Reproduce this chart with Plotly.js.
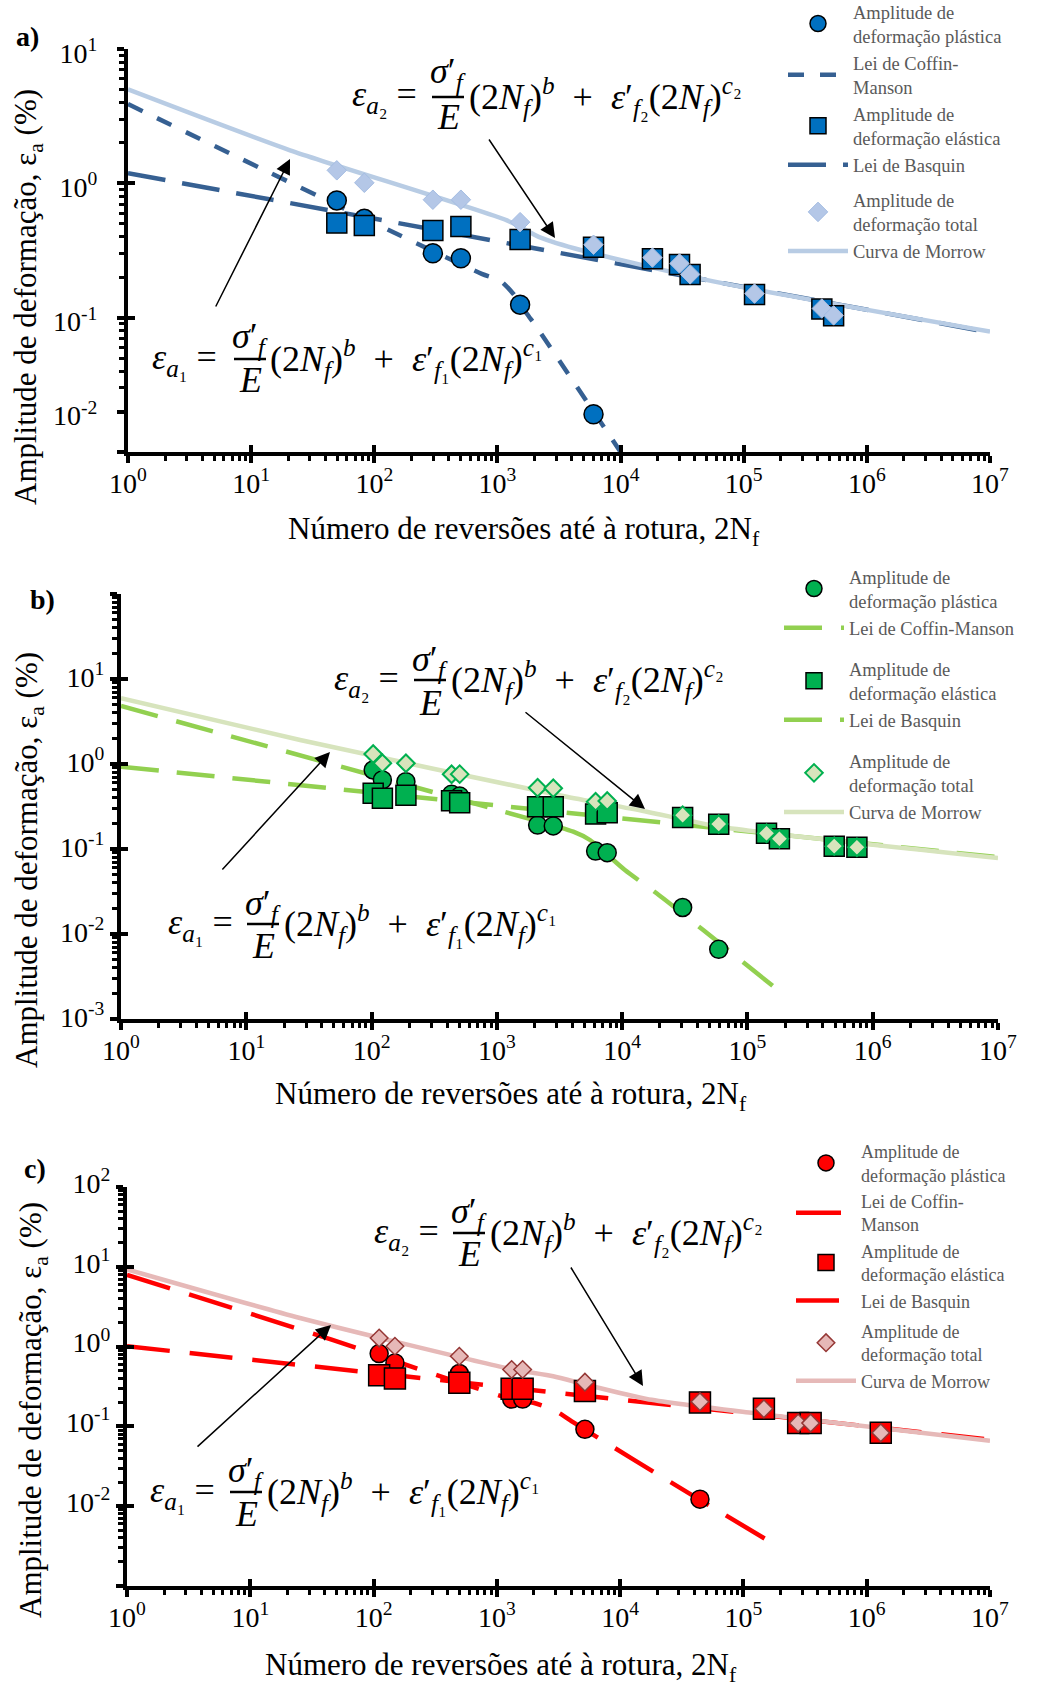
<!DOCTYPE html>
<html>
<head>
<meta charset="utf-8">
<script src="https://cdn.plot.ly/plotly-3.0.1.min.js"></script>
<style>html,body{margin:0;padding:0;background:#fff}</style>
</head>
<body>
<div id="chart" style="width:1043px;height:1686px"></div>
<script>
// ---------- Panel a ----------
const aPlasticN = [49.6, 83, 299, 505, 1528, 6030];
const aPlasticE = [0.746, 0.544, 0.302, 0.277, 0.125, 0.0191];
const aN        = [49.6, 83, 299, 505, 1528, 6030, 18150, 30100, 36700, 122400, 431000, 537000];
const aElastic  = [0.506, 0.486, 0.446, 0.477, 0.382, 0.335, 0.274, 0.249, 0.21, 0.149, 0.116, 0.1035];
const aTotal    = [1.25, 1.01, 0.755, 0.755, 0.514, 0.349, 0.28, 0.253, 0.21, 0.151, 0.117, 0.104];
const aCoffinN  = [1, 746, 1052, 1349, 1734, 2089, 10000];
const aCoffinE  = [3.89, 0.212, 0.189, 0.150, 0.107, 0.0847, 0.01];
const aBasquinN = [1, 1e7];
const aBasquinE = [1.19, 0.0776];
const aMorrowN  = [1, 20.7, 1194, 2188, 4898, 63830, 1e7];
const aMorrowE  = [5.0, 1.762, 0.530, 0.398, 0.316, 0.1824, 0.0787];

// ---------- Panel b ----------
const bPlasticN = [103, 122, 188, 435, 505, 2115, 2820, 6140, 7600, 30400, 59000];
const bPlasticE = [0.85, 0.65, 0.62, 0.44, 0.42, 0.191, 0.187, 0.0946, 0.0904, 0.0205, 0.0066];
const bN        = [103, 122, 188, 435, 505, 2115, 2820, 6140, 7600, 30400, 59000, 142000, 180000, 493000, 748000];
const bElastic  = [0.452, 0.395, 0.43, 0.37, 0.35, 0.315, 0.315, 0.258, 0.267, 0.235, 0.195, 0.153, 0.132, 0.108, 0.105];
const bTotal    = [1.31, 1.02, 1.02, 0.757, 0.76, 0.526, 0.518, 0.36, 0.367, 0.25, 0.197, 0.153, 0.132, 0.108, 0.105];
const bCoffinN  = [1, 1059, 4074, 5534, 10520, 18840, 44360, 163300];
const bCoffinE  = [4.81, 0.2825, 0.160, 0.1276, 0.0566, 0.0301, 0.01114, 0.002377];
const bBasquinN = [1, 1e7];
const bBasquinE = [0.93, 0.0802];
const bMorrowN  = [1, 26.9, 3606, 15700, 60260, 1e7];
const bMorrowE  = [5.93, 1.914, 0.412, 0.2748, 0.1828, 0.0783];

// ---------- Panel c ----------
const cPlasticN = [111, 149, 496, 1318, 1619, 5180, 44400];
const cPlasticE = [0.818, 0.625, 0.46, 0.22, 0.22, 0.0918, 0.01224];
const cN        = [111, 149, 496, 1318, 1619, 5180, 44400, 146600, 278000, 351000, 1300000];
const cElastic  = [0.438, 0.398, 0.352, 0.296, 0.296, 0.277, 0.2, 0.166, 0.110, 0.110, 0.083];
const cTotal    = [1.28, 1.01, 0.757, 0.516, 0.516, 0.358, 0.204, 0.166, 0.110, 0.110, 0.083];
const cCoffinN  = [1, 45.7, 501, 1358, 1977, 2864, 4436, 12760, 39170, 158500];
const cCoffinE  = [7.94, 1.223, 0.3516, 0.2176, 0.1977, 0.1622, 0.1059, 0.03868, 0.01346, 0.003715];
const cBasquinN = [1, 1e7];
const cBasquinE = [1.01, 0.0684];
const cMorrowN  = [1, 25.3, 1259, 2864, 5346, 16410, 120200, 1e7];
const cMorrowE  = [9.3, 2.286, 0.530, 0.4256, 0.3319, 0.2208, 0.1466, 0.0662];

// ---------- Tick labels ----------
const xTickVals = [1, 10, 100, 1e3, 1e4, 1e5, 1e6, 1e7];
const xTickText = ['10<sup>0</sup>', '10<sup>1</sup>', '10<sup>2</sup>', '10<sup>3</sup>',
                   '10<sup>4</sup>', '10<sup>5</sup>', '10<sup>6</sup>', '10<sup>7</sup>'];
const aYTickVals = [0.01, 0.02, 0.1, 1, 10];
const aYTickText = ['', '10<sup>-2</sup>', '10<sup>-1</sup>', '10<sup>0</sup>', '10<sup>1</sup>'];
const bYTickVals = [0.001, 0.01, 0.1, 1, 10, 100];
const bYTickText = ['10<sup>-3</sup>', '10<sup>-2</sup>', '10<sup>-1</sup>', '10<sup>0</sup>', '10<sup>1</sup>', ''];
const cYTickVals = [0.001, 0.01, 0.1, 1, 10, 100];
const cYTickText = ['', '10<sup>-2</sup>', '10<sup>-1</sup>', '10<sup>0</sup>', '10<sup>1</sup>', '10<sup>2</sup>'];

// ---------- Helpers ----------
const W = 1043, H = 1686;
const fx = v => v / W;
const fy = v => 1 - v / H;
const SERIF = 'Liberation Serif, Times New Roman, serif';
const NB = '\u00A0';

function decadeMinors(lo, hi) {
  const out = [];
  for (let k = lo; k < hi; k++) for (let d = 2; d <= 9; d++) out.push(d * Math.pow(10, k));
  return out;
}
const majorsBetween = (lo, hi) => { const o = []; for (let k = lo; k <= hi; k++) o.push(Math.pow(10, k)); return o; };

function xAxis(l, r, anchor) {
  return {
    type: 'log', domain: [fx(l), fx(r)], range: [0, 7], anchor: anchor,
    showline: true, linewidth: 4, linecolor: '#000', zeroline: false, showgrid: false,
    ticks: 'outside', ticklen: 7, tickwidth: 4, tickcolor: '#000',
    tickmode: 'array', tickvals: xTickVals, ticktext: xTickText,
    tickfont: {family: SERIF, size: 28, color: '#000'}, ticklabelstandoff: -4,
    minor: {ticks: 'outside', ticklen: 5, tickwidth: 2.5, tickcolor: '#000', tickmode: 'array',
            tickvals: decadeMinors(0, 7), showgrid: false},
    fixedrange: true
  };
}
function yAxis(t, b, lo, hi, anchor, vals, text, standoff, shift) {
  return {
    type: 'log', domain: [fy(b), fy(t)], range: [lo, hi], anchor: anchor,
    showline: true, linewidth: 4, linecolor: '#000', zeroline: false, showgrid: false,
    ticks: 'outside', ticklen: 7, tickwidth: 4, tickcolor: '#000',
    tickmode: 'array', tickvals: vals, ticktext: text,
    tickfont: {family: SERIF, size: 28, color: '#000'},
    ticklabelstandoff: standoff, ticklabelshift: shift,
    minor: {ticks: 'outside', ticklen: 5, tickwidth: 2.5, tickcolor: '#000', tickmode: 'array',
            tickvals: decadeMinors(lo, hi), showgrid: false},
    fixedrange: true
  };
}
// companion axes that draw the inner half of the major ticks
function xInner(l, r, over, anchor) {
  return {type: 'log', domain: [fx(l), fx(r)], range: [0, 7], overlaying: over, anchor: anchor,
          showline: false, zeroline: false, showgrid: false, showticklabels: false,
          ticks: 'inside', ticklen: 7, tickwidth: 4, tickcolor: '#000',
          tickmode: 'array', tickvals: xTickVals, fixedrange: true};
}
function yInner(t, b, lo, hi, over, anchor) {
  return {type: 'log', domain: [fy(b), fy(t)], range: [lo, hi], overlaying: over, anchor: anchor,
          showline: false, zeroline: false, showgrid: false, showticklabels: false,
          ticks: 'inside', ticklen: 7, tickwidth: 4, tickcolor: '#000',
          tickmode: 'array', tickvals: majorsBetween(lo, hi), fixedrange: true};
}

const traces = [];
function panel(p) {
  const common = {xaxis: p.xa, yaxis: p.ya, legend: p.legend, hoverinfo: 'x+y'};
  traces.push(Object.assign({type: 'scatter', mode: 'lines', name: p.cmName, x: p.cmN, y: p.cmE,
    line: {color: p.lineColor, width: 4.5, dash: p.cmDash, shape: 'spline', smoothing: 0.6},
    legendgroup: 'g1', legendrank: 2}, common));
  traces.push(Object.assign({type: 'scatter', mode: 'lines', name: 'Lei de Basquin', x: p.bqN, y: p.bqE,
    line: {color: p.lineColor, width: 4.5, dash: p.bqDash},
    legendgroup: p.bqGroup, legendrank: 4}, common));
  traces.push(Object.assign({type: 'scatter', mode: 'lines', name: 'Curva de Morrow', x: p.moN, y: p.moE,
    line: {color: p.morrowColor, width: 4.5, shape: 'spline', smoothing: 0.6},
    legendgroup: 'g3', legendrank: 6}, common));
  traces.push(Object.assign({type: 'scatter', mode: 'markers', name: 'Amplitude de<br>deformação plástica',
    x: p.plN, y: p.plE,
    marker: {symbol: 'circle', size: p.circ, color: p.fill, line: {color: '#000', width: 1.5}},
    legendgroup: 'g1', legendrank: 1}, common));
  traces.push(Object.assign({type: 'scatter', mode: 'markers', name: 'Amplitude de<br>deformação elástica',
    x: p.N, y: p.el,
    marker: {symbol: 'square', size: p.sq, color: p.fill, line: {color: '#000', width: 1.5}},
    legendgroup: p.bqGroup, legendrank: 3}, common));
  traces.push(Object.assign({type: 'scatter', mode: 'markers', name: 'Amplitude de<br>deformação total',
    x: p.N, y: p.tot,
    marker: {symbol: 'diamond', size: p.dia, color: p.diaFill, line: {color: p.diaLine, width: p.diaLineW}},
    legendgroup: 'g3', legendrank: 5}, common));
  // empty companions so the inner tick axes get drawn
  traces.push({type: 'scatter', mode: 'markers', x: [], y: [], xaxis: p.xi, yaxis: p.ya, showlegend: false, hoverinfo: 'skip'});
  traces.push({type: 'scatter', mode: 'markers', x: [], y: [], xaxis: p.xa, yaxis: p.yi, showlegend: false, hoverinfo: 'skip'});
}

panel({xa: 'x', ya: 'y', xi: 'x4', yi: 'y4', legend: 'legend',
  cmName: 'Lei de Coffin-<br>Manson', cmN: aCoffinN, cmE: aCoffinE, cmDash: '16px,16px',
  bqN: aBasquinN, bqE: aBasquinE, bqDash: '38px,17px', bqGroup: 'g1',
  moN: aMorrowN, moE: aMorrowE, plN: aPlasticN, plE: aPlasticE, N: aN, el: aElastic, tot: aTotal,
  lineColor: '#366092', morrowColor: '#B8CCE4', fill: '#0070C0',
  diaFill: '#B4C7E7', diaLine: '#A3BCE2', diaLineW: 1, circ: 19, sq: 20, dia: 15});
panel({xa: 'x2', ya: 'y2', xi: 'x5', yi: 'y5', legend: 'legend2',
  cmName: 'Lei de Coffin-Manson', cmN: bCoffinN, cmE: bCoffinE, cmDash: '38px,19px',
  bqN: bBasquinN, bqE: bBasquinE, bqDash: '38px,18px', bqGroup: 'g2',
  moN: bMorrowN, moE: bMorrowE, plN: bPlasticN, plE: bPlasticE, N: bN, el: bElastic, tot: bTotal,
  lineColor: '#92D050', morrowColor: '#D7E4BD', fill: '#00B050',
  diaFill: '#D8E4BC', diaLine: '#00B050', diaLineW: 2, circ: 18, sq: 20, dia: 13.5});
panel({xa: 'x3', ya: 'y3', xi: 'x6', yi: 'y6', legend: 'legend3',
  cmName: 'Lei de Coffin-<br>Manson', cmN: cCoffinN, cmE: cCoffinE, cmDash: '45px,20px',
  bqN: cBasquinN, bqE: cBasquinE, bqDash: '43px,20px', bqGroup: 'g1',
  moN: cMorrowN, moE: cMorrowE, plN: cPlasticN, plE: cPlasticE, N: cN, el: cElastic, tot: cTotal,
  lineColor: '#FF0000', morrowColor: '#E6B9B8', fill: '#FF0000',
  diaFill: '#E6B8B7', diaLine: '#953735', diaLineW: 1.5, circ: 18, sq: 21, dia: 13.5});

// ---------- Text, equations, arrows ----------
const annotations = [];
const shapes = [];
function txt(x, y, text, size, opts) {
  annotations.push(Object.assign({xref: 'paper', yref: 'paper', x: fx(x), y: fy(y), text: text,
    showarrow: false, font: {family: SERIF, size: size, color: '#000'}, xanchor: 'center', yanchor: 'middle'}, opts || {}));
}
function arrow(hx, hy, tx, ty) {
  annotations.push({xref: 'paper', yref: 'paper', x: fx(hx), y: fy(hy), ax: tx - hx, ay: ty - hy,
    text: '', showarrow: true, arrowhead: 2, arrowsize: 2, arrowwidth: 1.5, arrowcolor: '#000', standoff: 0});
}
const EQ = 36;
function equation(e, k) {
  const lhs = '<i>ε</i><sub><i>a</i>' + k + '</sub>' + NB + '=';
  const rhs = '(2<i>N</i><sub><i>f</i></sub>)<sup><i>b</i></sup>' + NB + NB + '+' + NB + NB +
              '<i>ε</i>′<sub><i>f</i>' + k + '</sub>(2<i>N</i><sub><i>f</i></sub>)<sup><i>c</i>' + k + '</sup>';
  txt(e.x0, e.yc, lhs, EQ, {xanchor: 'left'});
  txt(e.fc, e.yn, '<i>σ</i>′<sub><i>f</i></sub>', EQ);
  txt(e.fc, e.yd, '<i>E</i>', EQ);
  txt(e.rx, e.yc, rhs, EQ, {xanchor: 'left'});
  shapes.push({type: 'line', xref: 'paper', yref: 'paper', x0: fx(e.fc - e.hw), x1: fx(e.fc + e.hw),
               y0: fy(e.yc), y1: fy(e.yc), line: {color: '#000', width: 2.5}});
}

const yTitle = 'Amplitude de deformação, ε<sub>a</sub> (%)';
const xTitle = 'Número de reversões até à rotura, 2N<sub>f</sub>';

// panel a
txt(27, 37, '<b>a)</b>', 28);
txt(28, 297, yTitle, 31, {textangle: -90});
txt(524, 531, xTitle, 31);
equation({x0: 350, yc: 97, fc: 448, hw: 16, yn: 74, yd: 117, rx: 467}, '₂');
equation({x0: 150, yc: 359, fc: 250, hw: 16, yn: 338, yd: 380, rx: 268}, '₁');
arrow(290, 159, 215, 308);
arrow(555, 238, 488, 138);

// panel b
txt(42, 600, '<b>b)</b>', 28);
txt(29, 860, yTitle, 31, {textangle: -90});
txt(511, 1096, xTitle, 31);
equation({x0: 332, yc: 680, fc: 430, hw: 16, yn: 661, yd: 703, rx: 449}, '₂');
equation({x0: 166, yc: 924, fc: 263, hw: 16, yn: 905, yd: 946, rx: 282}, '₁');
arrow(330, 752, 221, 871);
arrow(645, 809, 524, 711);

// panel c
txt(35, 1168, '<b>c)</b>', 28);
txt(33, 1410, yTitle, 31, {textangle: -90});
txt(501, 1667, xTitle, 31);
equation({x0: 372, yc: 1233, fc: 469, hw: 16, yn: 1213, yd: 1254, rx: 488}, '₂');
equation({x0: 148, yc: 1492, fc: 246, hw: 16, yn: 1472, yd: 1514, rx: 265}, '₁');
arrow(331, 1325, 196, 1448);
arrow(643, 1386, 570, 1266);

function legendCfg(x, y, size, gap) {
  return {x: fx(x), y: fy(y), xanchor: 'left', yanchor: 'top', bgcolor: 'rgba(0,0,0,0)',
          font: {family: SERIF, size: size, color: '#595959'}, traceorder: 'grouped',
          tracegroupgap: gap, itemwidth: 60, itemclick: false, itemdoubleclick: false};
}

const layout = {
  width: W, height: H, autosize: false,
  margin: {l: 0, r: 0, t: 0, b: 0, pad: 0, autoexpand: false},
  paper_bgcolor: '#fff', plot_bgcolor: 'rgba(0,0,0,0)',
  font: {family: SERIF, color: '#000'},
  showlegend: true,
  xaxis:  xAxis(128, 990, 'y'),
  yaxis:  yAxis(49, 452, -2, 1, 'x', aYTickVals, aYTickText, 14, 4),
  xaxis4: xInner(128, 990, 'x', 'y'),
  yaxis4: yInner(49, 452, -2, 1, 'y', 'x'),
  xaxis2: xAxis(121, 998, 'y2'),
  yaxis2: yAxis(594, 1019, -3, 2, 'x2', bYTickVals, bYTickText, 0, -2),
  xaxis5: xInner(121, 998, 'x2', 'y2'),
  yaxis5: yInner(594, 1019, -3, 2, 'y2', 'x2'),
  xaxis3: xAxis(127, 990, 'y3'),
  yaxis3: yAxis(1187, 1586, -3, 2, 'x3', cYTickVals, cYTickText, 0, -4),
  xaxis6: xInner(127, 990, 'x3', 'y3'),
  yaxis6: yInner(1187, 1586, -3, 2, 'y3', 'x3'),
  legend:  legendCfg(783, -7, 18.5, 8),
  legend2: legendCfg(779, 558, 18.5, 14),
  legend3: legendCfg(791, 1133, 18, 4),
  annotations: annotations,
  shapes: shapes
};

Plotly.newPlot('chart', traces, layout, {displayModeBar: false});
</script>
</body>
</html>
